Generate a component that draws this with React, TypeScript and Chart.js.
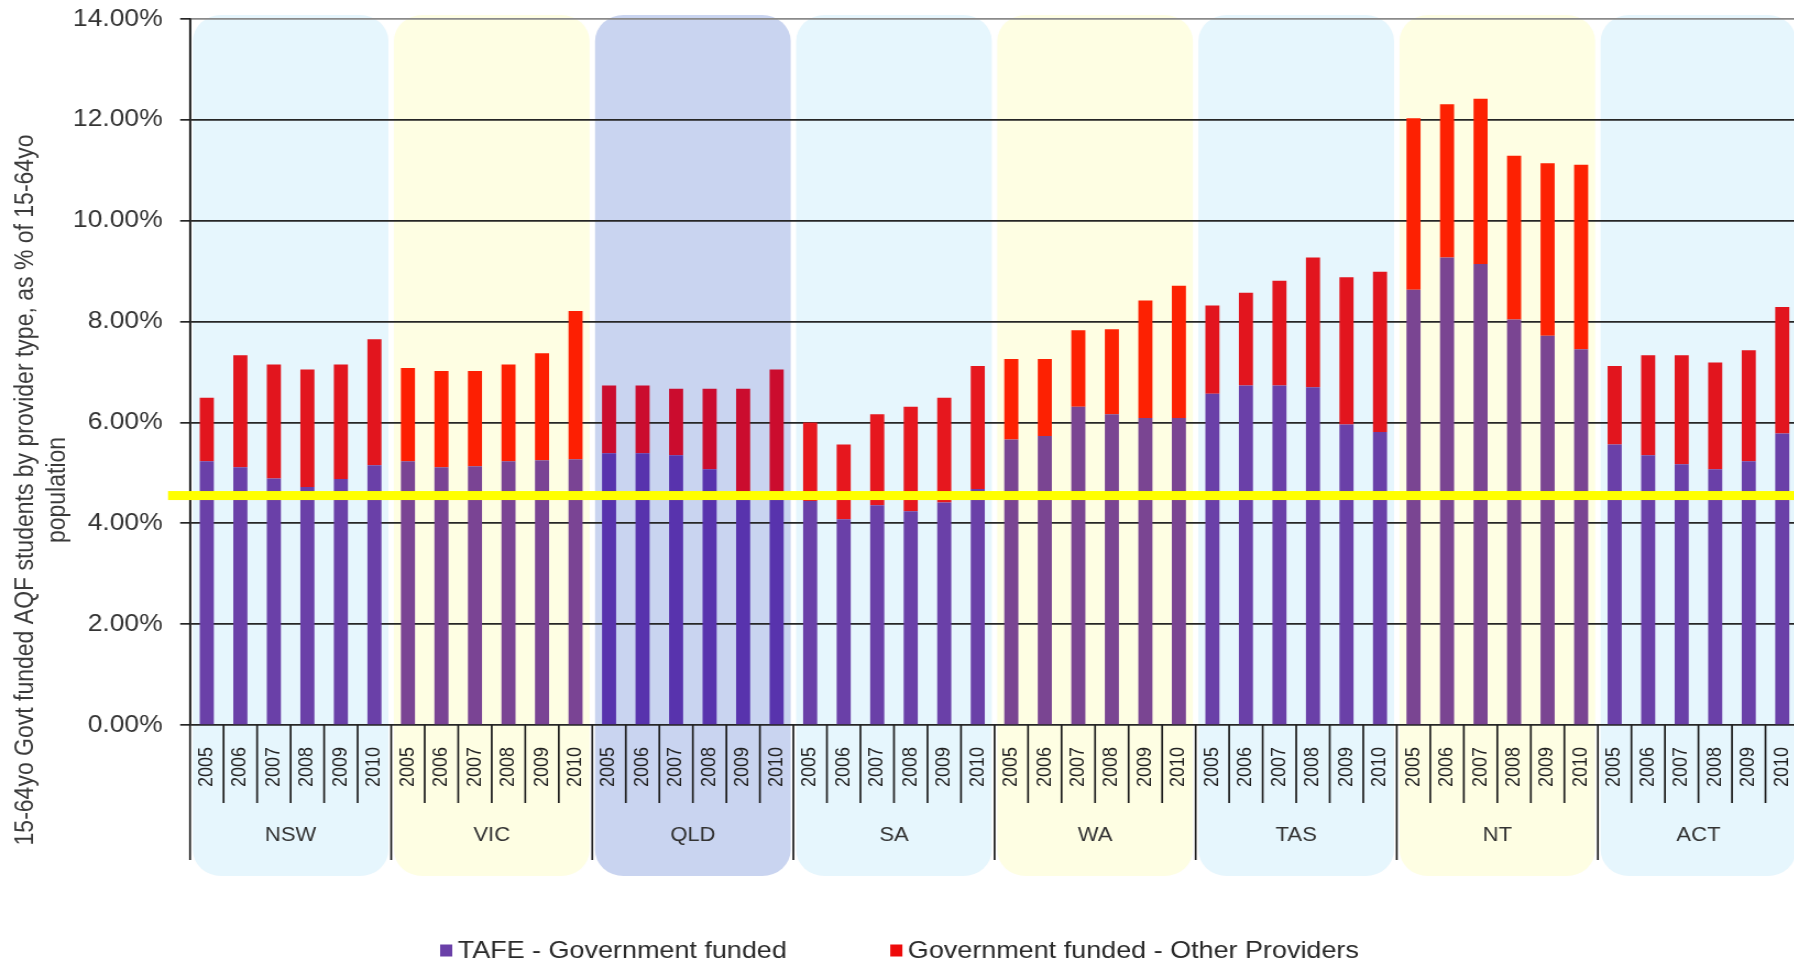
import React, { useEffect, useRef } from "react";
import { Chart, registerables } from "chart.js";

Chart.register(...registerables);

// ---------- data ----------
const STATES = ["NSW", "VIC", "QLD", "SA", "WA", "TAS", "NT", "ACT"];
const YEARS = ["2005", "2006", "2007", "2008", "2009", "2010"];

// % of 15-64yo population, TAFE - Government funded (per state, 2005..2010)
const TAFE_NSW = [5.23, 5.11, 4.89, 4.72, 4.88, 5.15];
const TAFE_VIC = [5.23, 5.11, 5.13, 5.23, 5.25, 5.27];
const TAFE_QLD = [5.39, 5.39, 5.35, 5.07, 4.62, 4.55];
const TAFE_SA = [4.44, 4.08, 4.36, 4.24, 4.41, 4.68];
const TAFE_WA = [5.66, 5.73, 6.31, 6.16, 6.09, 6.09];
const TAFE_TAS = [6.57, 6.73, 6.73, 6.7, 5.96, 5.81];
const TAFE_NT = [8.63, 9.27, 9.14, 8.04, 7.72, 7.45];
const TAFE_ACT = [5.56, 5.35, 5.17, 5.07, 5.23, 5.78];

// Government funded - Other Providers
const OTHER_NSW = [1.26, 2.22, 2.26, 2.33, 2.27, 2.5];
const OTHER_VIC = [1.85, 1.91, 1.89, 1.92, 2.12, 2.94];
const OTHER_QLD = [1.34, 1.34, 1.32, 1.6, 2.05, 2.5];
const OTHER_SA = [1.56, 1.48, 1.8, 2.07, 2.08, 2.44];
const OTHER_WA = [1.6, 1.53, 1.52, 1.69, 2.33, 2.62];
const OTHER_TAS = [1.75, 1.84, 2.08, 2.57, 2.92, 3.18];
const OTHER_NT = [3.4, 3.04, 3.28, 3.25, 3.42, 3.66];
const OTHER_ACT = [1.56, 1.98, 2.16, 2.12, 2.2, 2.51];

const Y_TICKS = [0, 2, 4, 6, 8, 10, 12, 14];
const THRESHOLD = 4.55; // highlighted yellow reference line

const SERIES_LABELS = ["TAFE - Government funded", "Government funded - Other Providers"];
const Y_TITLE = ["15-64yo Govt funded AQF students by provider type, as % of 15-64yo", "population"];

// ---------- styles ----------
const PURPLE_BY_STATE = ["#6a40a8", "#7a4494", "#5833ad", "#6a40a8", "#7a4592", "#6a40a8", "#7a4592", "#6a40a8"];
const RED_BY_STATE = ["#e2151e", "#fd1f02", "#cb0c2e", "#e6171e", "#fd2102", "#e2151e", "#fd2102", "#e2151e"];
const BOX_BY_STATE = ["#e6f6fd", "#fefee3", "#c9d4f0", "#e6f6fd", "#fefee3", "#e6f6fd", "#fefee3", "#e6f6fd"];
const LEGEND_COLORS = ["#6a40a8", "#ee0a0a"];
const FONT = "'Liberation Sans', Arial, sans-serif";

const STRETCH = 1.1; // horizontal stretch of the rendered picture
const CW = 1635;
const CH = 965;

const TAFE = [TAFE_NSW, TAFE_VIC, TAFE_QLD, TAFE_SA, TAFE_WA, TAFE_TAS, TAFE_NT, TAFE_ACT].flat();
const OTHER = [OTHER_NSW, OTHER_VIC, OTHER_QLD, OTHER_SA, OTHER_WA, OTHER_TAS, OTHER_NT, OTHER_ACT].flat();
const LABELS = STATES.flatMap(() => YEARS);
const PER = YEARS.length;

const bgPlugin = {
  id: "bgBoxes",
  beforeDraw(chart: any) {
    const { ctx, chartArea } = chart;
    const x = chart.scales.x;
    const cat = (chartArea.right - chartArea.left) / LABELS.length;
    ctx.save();
    ctx.fillStyle = "#ffffff";
    ctx.fillRect(0, 0, chart.width, chart.height);
    STATES.forEach((s, i) => {
      const l = x.getPixelForValue(i * PER) - cat / 2 + 2.5;
      const r = x.getPixelForValue(i * PER + PER - 1) + cat / 2 - 2.5;
      ctx.fillStyle = BOX_BY_STATE[i];
      ctx.beginPath();
      (ctx as any).roundRect(l, 15, r - l, 876 - 15, 26);
      ctx.fill();
    });
    ctx.restore();
  },
};

const overlayPlugin = {
  id: "overlay",
  afterDraw(chart: any) {
    const { ctx, chartArea } = chart;
    const x = chart.scales.x;
    const y = chart.scales.y;
    const cat = (chartArea.right - chartArea.left) / LABELS.length;
    const base = chartArea.bottom;
    ctx.save();
    // axis extension and separators
    ctx.strokeStyle = "#1e1e1e";
    ctx.lineWidth = 1.7;
    ctx.beginPath();
    ctx.moveTo(chartArea.left, chartArea.top);
    ctx.lineTo(chartArea.left, 860);
    for (let i = 1; i < LABELS.length; i++) {
      const px = chartArea.left + i * cat;
      ctx.moveTo(px, base);
      ctx.lineTo(px, i % PER === 0 ? 860 : 803);
    }
    ctx.stroke();

    // state labels
    ctx.fillStyle = "#333333";
    ctx.font = `20px ${FONT}`;
    ctx.textAlign = "center";
    ctx.textBaseline = "middle";
    STATES.forEach((s, i) => {
      const c = (x.getPixelForValue(i * PER) + x.getPixelForValue(i * PER + PER - 1)) / 2;
      ctx.fillText(s, c, 835);
    });

    // threshold line
    const ty = y.getPixelForValue(THRESHOLD);
    ctx.fillStyle = "#ffff00";
    ctx.fillRect(168 / STRETCH, ty - 4.5, chart.width, 9);

    // y title
    ctx.fillStyle = "#3a3a3a";
    ctx.font = `23px ${FONT}`;
    ctx.textAlign = "center";
    ctx.textBaseline = "middle";
    const tx = [23.5, 52.5];
    Y_TITLE.forEach((t, i) => {
      ctx.save();
      ctx.translate(tx[i], 490);
      ctx.rotate(-Math.PI / 2);
      ctx.fillText(t, 0, 0);
      ctx.restore();
    });

    // legend
    ctx.font = `24.5px ${FONT}`;
    ctx.textAlign = "left";
    const boxW = 11;
    const gap = 5;
    const itemGap = 94;
    const widths = SERIES_LABELS.map((t) => ctx.measureText(t).width);
    const total = widths.reduce((a, w) => a + boxW + gap + w, 0) + itemGap;
    let cx = chart.width / 2 - total / 2;
    const ly = 951;
    SERIES_LABELS.forEach((t, i) => {
      ctx.fillStyle = LEGEND_COLORS[i];
      ctx.fillRect(cx, ly - 6.5, boxW, 12);
      cx += boxW + gap;
      ctx.fillStyle = "#2a2a2a";
      ctx.fillText(t, cx, ly);
      cx += widths[i] + itemGap;
    });
    ctx.restore();
  },
};

export default function App() {
  const ref = useRef<HTMLCanvasElement | null>(null);
  useEffect(() => {
    if (!ref.current) return;
    const tafeColors = LABELS.map((_, i) => PURPLE_BY_STATE[Math.floor(i / PER)]);
    const otherColors = LABELS.map((_, i) => RED_BY_STATE[Math.floor(i / PER)]);
    const chart = new Chart(ref.current, {
      type: "bar",
      data: {
        labels: LABELS,
        datasets: [
          { label: SERIES_LABELS[0], data: TAFE, backgroundColor: tafeColors, stack: "s" },
          { label: SERIES_LABELS[1], data: OTHER, backgroundColor: otherColors, stack: "s" },
        ],
      },
      options: {
        responsive: false,
        animation: false,
        devicePixelRatio: 1,
        layout: { padding: { top: 19, left: 0, right: 0, bottom: 0 } },
        datasets: { bar: { categoryPercentage: 1, barPercentage: 0.42 } },
        plugins: { legend: { display: false }, tooltip: { enabled: false } },
        scales: {
          x: {
            stacked: true,
            grid: { display: false, drawTicks: false },
            border: { display: false },
            ticks: {
              autoSkip: false,
              minRotation: 90,
              maxRotation: 90,
              padding: 22,
              color: "#222222",
              font: { family: FONT, size: 18 },
            },
            afterFit: (s: any) => {
              s.height = 240;
              s.paddingLeft = 0;
              s.paddingRight = 0;
            },
          },
          y: {
            stacked: true,
            min: 0,
            max: 14,
            afterBuildTicks: (s: any) => {
              s.ticks = Y_TICKS.map((v) => ({ value: v }));
            },
            ticks: {
              padding: 16,
              color: "#333333",
              font: { family: FONT, size: 24 },
              callback: (v: any) => Number(v).toFixed(2) + "%",
            },
            grid: {
              color: (c: any) => (c.tick && c.tick.value === 14 ? "#8a8a8a" : "#262626"),
              lineWidth: 1.7,
              tickLength: 9,
              tickColor: "#262626",
              tickWidth: 1.7,
            },
            border: { display: true, color: "#1e1e1e", width: 1.7 },
            afterFit: (s: any) => {
              s.width = 190 / STRETCH;
              s.paddingTop = 0;
              s.paddingBottom = 0;
            },
          },
        },
      } as any,
      plugins: [bgPlugin, overlayPlugin],
    });
    return () => chart.destroy();
  }, []);

  return (
    <div
      style={{
        position: "fixed",
        left: 0,
        top: 0,
        width: 1794,
        height: 965,
        overflow: "hidden",
        background: "#ffffff",
      }}
    >
      <canvas
        ref={ref}
        width={CW}
        height={CH}
        style={{ display: "block", width: `${CW * STRETCH}px`, height: `${CH}px` }}
      />
    </div>
  );
}
